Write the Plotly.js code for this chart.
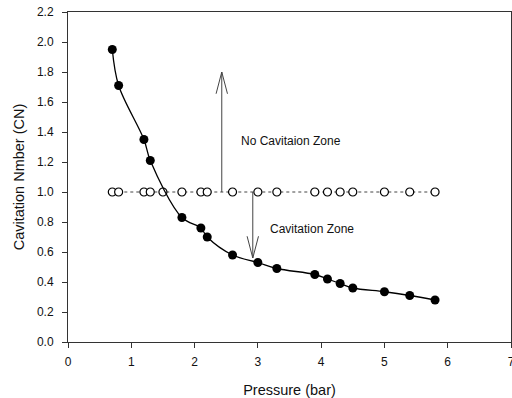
<!DOCTYPE html>
<html>
<head>
<meta charset="utf-8">
<script src="https://cdn.plot.ly/plotly-3.0.1.min.js"></script>
<style>
  html, body { margin: 0; padding: 0; background: #fff; overflow: hidden; }
  #chart { width: 512px; height: 398px; }
</style>
</head>
<body>
<div id="chart"></div>
<script>
// Measured cavitation number against pressure
const pressure = [0.7, 0.8, 1.2, 1.3, 1.8, 2.1, 2.2, 2.6, 3.0, 3.3, 3.9, 4.1, 4.3, 4.5, 5.0, 5.4, 5.8];
const cavNumber = [1.95, 1.71, 1.35, 1.21, 0.83, 0.76, 0.70, 0.58, 0.53, 0.49, 0.45, 0.42, 0.39, 0.36, 0.335, 0.31, 0.28];

// Threshold line CN = 1.0
const thresholdPressure = [0.7, 0.8, 1.2, 1.3, 1.5, 1.8, 2.1, 2.2, 2.6, 3.0, 3.3, 3.9, 4.1, 4.3, 4.5, 5.0, 5.4, 5.8];
const thresholdCN = [1, 1, 1, 1, 1, 1, 1, 1, 1, 1, 1, 1, 1, 1, 1, 1, 1, 1];

// Zone arrows: x position, start and tip in CN
const arrowX = [2.43, 2.92];
const arrowFrom = [1.0, 1.0];
const arrowTo = [1.8, 0.56];

// Zone labels
const zoneLabels = ['No Cavitaion Zone', 'Cavitation Zone'];
const zoneX = [3.52, 3.85];
const zoneY = [1.34, 0.755];

const font = 'Arial, "Liberation Sans", sans-serif';

const traces = [
  {
    x: thresholdPressure, y: thresholdCN, type: 'scatter', mode: 'lines+markers',
    line: { color: '#444', width: 1, dash: 'dot' },
    marker: { symbol: 'circle', size: 8, color: '#fff', line: { color: '#000', width: 1.2 } },
    hoverinfo: 'skip'
  },
  {
    x: pressure, y: cavNumber, type: 'scatter', mode: 'lines+markers',
    line: { color: '#000', width: 1.3, shape: 'spline', smoothing: 1 },
    marker: { symbol: 'circle', size: 9, color: '#000' },
    hoverinfo: 'skip'
  }
];

// Open V-headed arrows drawn as paths in data coordinates
const headLen = 0.145;   // CN units
const headHalf = 0.09;   // pressure units
const shapes = arrowX.map((x, i) => {
  const y0 = arrowFrom[i], y1 = arrowTo[i];
  const s = y1 > y0 ? 1 : -1;
  const yb = y1 - s * headLen;
  return {
    type: 'path', xref: 'x', yref: 'y',
    path: `M${x},${y0} L${x},${y1} M${x - headHalf},${yb} L${x},${y1} L${x + headHalf},${yb}`,
    line: { color: '#444', width: 1 }
  };
});

const annotations = zoneLabels.map((t, i) => ({
  x: zoneX[i], y: zoneY[i], xref: 'x', yref: 'y', text: t, showarrow: false,
  font: { family: font, size: 12, color: '#111' }
}));

const layout = {
  width: 512, height: 398,
  margin: { l: 68, r: 1, t: 12, b: 56 },
  paper_bgcolor: '#fff', plot_bgcolor: '#fff',
  showlegend: false,
  font: { family: font, color: '#111' },
  xaxis: {
    range: [0, 7], dtick: 1, tick0: 0,
    showgrid: false, zeroline: false,
    showline: true, linecolor: '#333', linewidth: 1, mirror: true,
    ticks: 'outside', ticklen: 5, tickcolor: '#333', tickwidth: 1,
    ticklabelstandoff: 4, ticklabeloverflow: 'allow',
    tickfont: { family: font, size: 12, color: '#111' },
    title: { text: 'Pressure (bar)', font: { family: font, size: 14.5, color: '#111' }, standoff: 16 }
  },
  yaxis: {
    range: [0, 2.2], dtick: 0.2, tick0: 0, tickformat: '.1f',
    showgrid: false, zeroline: false,
    showline: true, linecolor: '#333', linewidth: 1, mirror: true,
    ticks: 'outside', ticklen: 5, tickcolor: '#333', tickwidth: 1,
    ticklabelstandoff: 6,
    tickfont: { family: font, size: 12, color: '#111' },
    title: { text: 'Cavitation Nmber (CN)', font: { family: font, size: 14.5, color: '#111' }, standoff: 8 }
  },
  shapes: shapes,
  annotations: annotations
};

Plotly.newPlot('chart', traces, layout, { displayModeBar: false, staticPlot: true });
</script>
</body>
</html>
